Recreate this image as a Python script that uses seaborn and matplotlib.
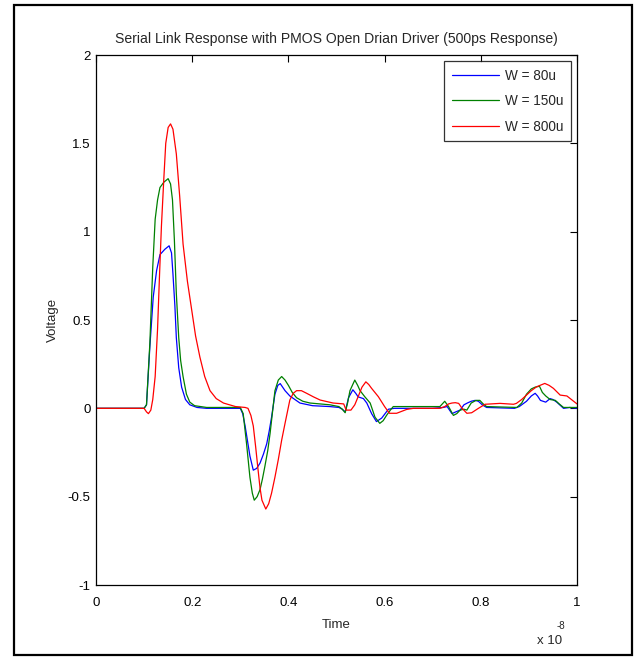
import numpy as np
import pandas as pd
import matplotlib
matplotlib.use("Agg")
import matplotlib.pyplot as plt
from matplotlib.patches import Rectangle
from matplotlib.ticker import FuncFormatter
import seaborn as sns

# time in units of 1e-8 s, voltage in V
t_80u = [0, 0.100, 0.105, 0.112, 0.119, 0.126, 0.133, 0.143, 0.152, 0.157, 0.160,
         0.164, 0.167, 0.172, 0.178, 0.186, 0.195, 0.210, 0.230, 0.300, 0.305,
         0.310, 0.320, 0.327, 0.334, 0.341, 0.348, 0.355, 0.360, 0.365, 0.372,
         0.378, 0.383, 0.393, 0.403, 0.424, 0.450, 0.486, 0.505, 0.512, 0.518,
         0.525, 0.534, 0.540, 0.545, 0.556, 0.563, 0.573, 0.583, 0.594, 0.608,
         0.620, 0.700, 0.722, 0.730, 0.740, 0.748, 0.757, 0.765, 0.772, 0.780,
         0.788, 0.795, 0.803, 0.812, 0.870, 0.880, 0.895, 0.905, 0.913, 0.918,
         0.924, 0.935, 0.944, 0.950, 0.958, 0.966, 0.972, 0.985, 1.0]
v_80u = [0, 0, 0.02, 0.35, 0.63, 0.78, 0.87, 0.90, 0.92, 0.88, 0.76,
         0.58, 0.40, 0.23, 0.12, 0.05, 0.02, 0.005, 0.0, 0.0, -0.03,
         -0.10, -0.27, -0.35, -0.34, -0.31, -0.26, -0.20, -0.13, -0.05, 0.08,
         0.13, 0.14, 0.10, 0.07, 0.03, 0.015, 0.01, 0.005, -0.005, -0.02,
         0.06, 0.105, 0.085, 0.065, 0.055, 0.03, -0.03, -0.075, -0.055, -0.005,
         0.0, 0.0, 0.005, 0.01, -0.03, -0.02, -0.01, 0.02, 0.03, 0.04,
         0.045, 0.04, 0.02, 0.005, 0.0, 0.01, 0.04, 0.07, 0.085, 0.07,
         0.045, 0.035, 0.055, 0.05, 0.035, 0.015, 0.0, 0.005, 0.0]

t_150u = [0, 0.100, 0.105, 0.112, 0.118, 0.123, 0.128, 0.133, 0.141, 0.150, 0.155,
          0.159, 0.163, 0.167, 0.172, 0.176, 0.181, 0.188, 0.195, 0.205, 0.230,
          0.300, 0.306, 0.313, 0.320, 0.325, 0.329, 0.335, 0.341, 0.346, 0.351,
          0.357, 0.362, 0.367, 0.372, 0.379, 0.386, 0.393, 0.400, 0.408, 0.417,
          0.430, 0.445, 0.486, 0.505, 0.512, 0.518, 0.523, 0.528, 0.538, 0.544,
          0.549, 0.559, 0.570, 0.575, 0.580, 0.590, 0.597, 0.604, 0.612, 0.618,
          0.700, 0.715, 0.725, 0.733, 0.743, 0.750, 0.757, 0.765, 0.771, 0.780,
          0.790, 0.798, 0.805, 0.812, 0.875, 0.885, 0.895, 0.905, 0.913, 0.922,
          0.928, 0.935, 0.944, 0.955, 0.963, 0.972, 0.985, 1.0]
v_150u = [0, 0, 0.02, 0.37, 0.80, 1.07, 1.18, 1.25, 1.28, 1.30, 1.27,
          1.18, 0.95, 0.65, 0.40, 0.27, 0.18, 0.08, 0.035, 0.015, 0.005,
          0.005, -0.03, -0.20, -0.39, -0.48, -0.52, -0.50, -0.46, -0.40, -0.33,
          -0.24, -0.14, -0.02, 0.10, 0.16, 0.18, 0.16, 0.13, 0.09, 0.06,
          0.04, 0.03, 0.02, 0.01, -0.005, -0.025, 0.03, 0.10, 0.16, 0.13,
          0.10, 0.065, 0.03, -0.01, -0.05, -0.085, -0.07, -0.04, -0.01, 0.01,
          0.01, 0.01, 0.04, 0.01, -0.04, -0.03, -0.01, -0.005, -0.01, 0.03,
          0.045, 0.045, 0.025, 0.01, 0.005, 0.03, 0.08, 0.11, 0.12, 0.125,
          0.09, 0.07, 0.05, 0.045, 0.025, 0.005, 0.005, 0.005]

t_800u = [0, 0.100, 0.105, 0.109, 0.114, 0.118, 0.123, 0.128, 0.132, 0.136, 0.141,
          0.145, 0.150, 0.155, 0.160, 0.167, 0.174, 0.181, 0.190, 0.199, 0.207,
          0.216, 0.226, 0.237, 0.250, 0.265, 0.290, 0.310, 0.316, 0.322, 0.327,
          0.332, 0.337, 0.341, 0.345, 0.353, 0.359, 0.365, 0.372, 0.379, 0.386,
          0.393, 0.403, 0.410, 0.417, 0.427, 0.438, 0.452, 0.466, 0.493, 0.515,
          0.520, 0.530, 0.538, 0.545, 0.553, 0.561, 0.567, 0.573, 0.587, 0.600,
          0.610, 0.625, 0.646, 0.660, 0.715, 0.725, 0.733, 0.740, 0.747, 0.754,
          0.761, 0.771, 0.781, 0.795, 0.809, 0.840, 0.868, 0.874, 0.885, 0.895,
          0.905, 0.916, 0.933, 0.942, 0.951, 0.965, 0.979, 0.993, 1.0]
v_800u = [0, 0, -0.02, -0.03, -0.01, 0.05, 0.18, 0.45, 0.75, 1.03, 1.30,
          1.50, 1.59, 1.61, 1.58, 1.44, 1.20, 0.93, 0.72, 0.556, 0.41,
          0.29, 0.18, 0.10, 0.055, 0.03, 0.01, 0.005, 0.0, -0.04, -0.10,
          -0.22, -0.35, -0.45, -0.52, -0.57, -0.54, -0.48, -0.39, -0.29, -0.18,
          -0.085, 0.047, 0.085, 0.10, 0.10, 0.085, 0.065, 0.047, 0.03, 0.025,
          -0.01, -0.01, 0.02, 0.066, 0.12, 0.15, 0.135, 0.113, 0.066, 0.01,
          -0.028, -0.028, -0.006, 0.0, 0.0, 0.01, 0.025, 0.03, 0.032, 0.028,
          0.0, -0.028, -0.025, 0.0, 0.023, 0.028, 0.023, 0.028, 0.05, 0.075,
          0.10, 0.122, 0.141, 0.13, 0.113, 0.075, 0.07, 0.04, 0.025]

series_names = ["W = 80u", "W = 150u", "W = 800u"]
series_colors = ["#0000ff", "#008000", "#ff0000"]

frames = []
for name, t, v in zip(series_names, [t_80u, t_150u, t_800u], [v_80u, v_150u, v_800u]):
    frames.append(pd.DataFrame({"Time": t, "Voltage": v, "series": name}))
df = pd.concat(frames, ignore_index=True)

sns.set_theme(style="white")
plt.rcParams["font.family"] = ["Liberation Sans", "DejaVu Sans"]

fig = plt.figure(figsize=(6.43, 6.58), dpi=100)
ax = fig.add_axes([96 / 643, 1 - 585 / 658, 481 / 643, 530 / 658])

sns.lineplot(data=df, x="Time", y="Voltage", hue="series", hue_order=series_names,
             palette=series_colors, estimator=None, sort=False, linewidth=0.9, ax=ax)

ax.set_xlim(0, 1)
ax.set_ylim(-1, 2)
ax.set_xticks([0, 0.2, 0.4, 0.6, 0.8, 1.0])
ax.set_yticks([-1, -0.5, 0, 0.5, 1, 1.5, 2])
fmt = FuncFormatter(lambda val, pos: f"{val:g}")
ax.xaxis.set_major_formatter(fmt)
ax.yaxis.set_major_formatter(fmt)
ax.tick_params(direction="in", length=5, width=0.8, colors="black", labelsize=9.5,
               top=True, right=True)
ax.tick_params(axis="x", pad=9)
ax.tick_params(axis="y", pad=4)
for sp in ax.spines.values():
    sp.set_color("black")
    sp.set_linewidth(0.9)

ax.set_title("Serial Link Response with PMOS Open Drian Driver (500ps Response)",
             fontsize=10.1, pad=9)
ax.set_xlabel("Time", fontsize=9.5, labelpad=7)
ax.set_ylabel("Voltage", fontsize=9.5, labelpad=6)

leg = ax.legend(loc="upper right", fontsize=9.8, frameon=True, fancybox=False,
                edgecolor="black", handlelength=3.5, handletextpad=0.4,
                borderpad=0.55, labelspacing=0.85, borderaxespad=0.45)
leg.get_frame().set_linewidth(0.9)
leg.set_title(None)

# exponent label and outer frame
fig.text(550 / 643, 1 - 641 / 658, "x 10", fontsize=9.5, ha="center", va="center")
fig.text(561 / 643, 1 - 626 / 658, "-8", fontsize=7, ha="center", va="center")
fig.add_artist(Rectangle((14 / 643, 1 - 655 / 658), 618 / 643, 650 / 658,
                         transform=fig.transFigure, fill=False, edgecolor="black",
                         linewidth=1.6))

fig.savefig("out.png", dpi=100)
